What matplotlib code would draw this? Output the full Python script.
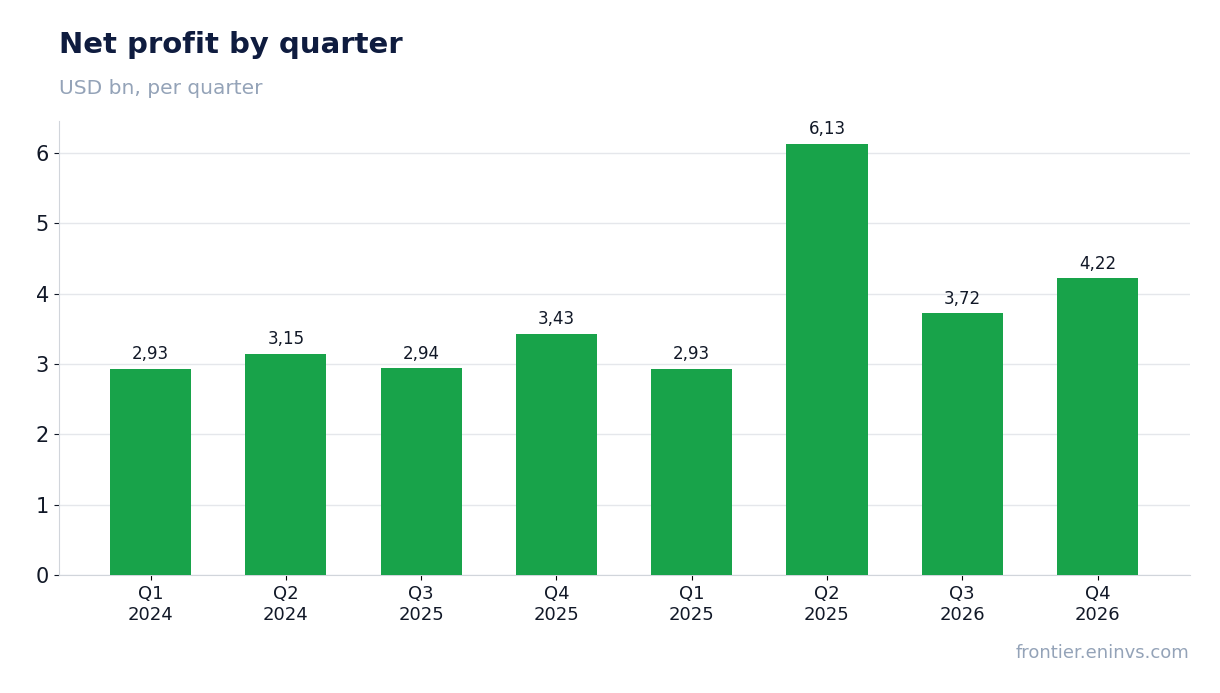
import matplotlib
matplotlib.use("Agg")
import matplotlib.pyplot as plt

categories = ["Q1\n2024", "Q2\n2024", "Q3\n2025", "Q4\n2025", "Q1\n2025", "Q2\n2025", "Q3\n2026", "Q4\n2026"]
values = [2.93, 3.15, 2.94, 3.43, 2.93, 6.13, 3.72, 4.22]
labels = ["2,93", "3,15", "2,94", "3,43", "2,93", "6,13", "3,72", "4,22"]

fig = plt.figure(figsize=(12.2, 6.93), dpi=100)
ax = fig.add_axes([0.048, 0.17, 0.927, 0.655])
x = range(len(values))
bars = ax.bar(x, values, width=0.6, color="#18a34a", zorder=3)
for xi, v, l in zip(x, values, labels):
    ax.text(xi, v + 0.08, l, ha="center", va="bottom", fontsize=12, color="#111827")
ax.set_xticks(list(x))
ax.set_xticklabels(categories, fontsize=13, color="#111827")
ax.set_ylim(0, 6.45)
ax.set_xlim(-0.68, 7.68)
ax.set_yticks(range(7))
ax.tick_params(axis="y", labelsize=15, colors="#111827")
ax.grid(axis="y", color="#e5e7eb", linewidth=1, zorder=0)
for s in ["top", "right"]:
    ax.spines[s].set_visible(False)
for s in ["left", "bottom"]:
    ax.spines[s].set_color("#d1d5db")
fig.text(0.048, 0.935, "Net profit by quarter", fontsize=21, fontweight="bold", color="#0f1c3f", va="center")
fig.text(0.048, 0.873, "USD bn, per quarter", fontsize=14.5, color="#94a3b8", va="center")
fig.text(0.975, 0.058, "frontier.eninvs.com", fontsize=13, color="#94a3b8", ha="right", va="center")
fig.savefig("out.png")
